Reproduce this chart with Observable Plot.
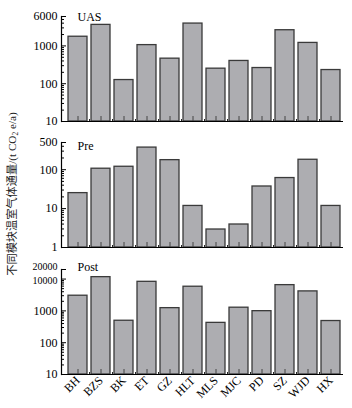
<!DOCTYPE html>
<html><head><meta charset="utf-8">
<script src="https://cdn.jsdelivr.net/npm/d3@7"></script>
<script src="https://cdn.jsdelivr.net/npm/@observablehq/plot@0.6"></script>
<style>
body{margin:0;background:#fff;}
#wrap{position:relative;width:352px;height:408px;overflow:hidden;}
#ylab{position:absolute;left:11px;top:194px;transform:translate(-50%,-50%) rotate(-90deg);white-space:nowrap;font-size:11.2px;font-family:"Liberation Serif","Noto Sans CJK SC",serif;color:#222;}
#ylab sub{font-size:7.5px;vertical-align:-2px;}
#charts svg{display:block;}
#charts{position:absolute;left:0;top:0;}
</style></head><body>
<div id="wrap"><div id="charts"></div><div id="ylab">不同模块温室气体通量/(t CO<sub>2</sub> e/a)</div></div>
<script>
const sites = ["BH","BZS","BK","ET","GZ","HLT","MLS","MJC","PD","SZ","WJD","HX"];
const uasValues = [1750, 3600, 125, 1050, 460, 3900, 250, 400, 260, 2600, 1200, 230];
const preValues = [25, 106, 119, 370, 176, 11.7, 2.9, 3.9, 37, 61, 180, 11.7];
const postValues = [3000, 11500, 490, 8200, 1220, 5750, 420, 1260, 980, 6450, 4100, 480];
const uasTicks = [10, 100, 1000, 6000];
const preTicks = [1, 10, 100, 500];
const postTicks = [10, 100, 1000, 10000, 20000];
const panelLabels = ["UAS", "Pre", "Post"];

function minorTicks(lo, hi, major) {
  const out = [];
  for (let e = Math.floor(Math.log10(lo)); e < Math.ceil(Math.log10(hi)); e++)
    for (let m = 2; m <= 9; m++) {
      const v = m * 10 ** e;
      if (v > lo && v < hi && !major.includes(v)) out.push(v);
    }
  return out;
}

function panel(values, ticks, label, height, marginTop, marginBottom, labelDy, showX, crowdedTop) {
  const data = sites.map((s, i) => ({site: s, v: values[i]}));
  const lo = ticks[0], hi = ticks[ticks.length - 1];
  const minor = minorTicks(lo, hi, ticks);
  const plain = crowdedTop ? ticks.slice(0, -2) : ticks;
  const marks = [
    Plot.barY(data, {x: "site", y1: lo, y2: "v", fill: "#adadb1", stroke: "#3a3a3a", strokeWidth: 1.3}),
    Plot.axisX({anchor: "bottom", label: null, tickSize: 5, dy: -5, tickFormat: () => "", stroke: "#444"}),
    Plot.axisX(sites.slice(0, 11), {anchor: "bottom", label: null, tickSize: 2, dy: -2, dx: 11.52, tickFormat: () => "", stroke: "#222"}),
    Plot.ruleY([lo], {stroke: "#000", strokeWidth: 1.2}),
    Plot.frame({anchor: "left", stroke: "#000", strokeWidth: 1.2}),
    Plot.axisY(ticks, {anchor: "left", label: null, tickSize: 5, dx: 5, tickFormat: () => ""}),
    Plot.axisY(minor, {anchor: "left", label: null, tickSize: 3, dx: 3, tickFormat: () => ""}),
    Plot.text(plain, {y: d => d, frameAnchor: "left", dx: -4, text: d => String(d), textAnchor: "end", fontSize: 12}),
    Plot.text([label], {frameAnchor: "top-left", text: d => d, dx: 16, dy: labelDy, textAnchor: "start", lineAnchor: "top", fontSize: 12})
  ];
  if (crowdedTop) {
    const n = ticks.length;
    marks.push(Plot.text([ticks[n - 2]], {y: d => d, frameAnchor: "left", dx: -4, dy: 1.5, text: d => String(d), textAnchor: "end", fontSize: 10}));
    marks.push(Plot.text([ticks[n - 1]], {y: d => d, frameAnchor: "left", dx: -4, dy: -3, text: d => String(d), textAnchor: "end", fontSize: 10}));
  }
  if (showX) marks.push(Plot.axisX({anchor: "bottom", label: null, tickSize: 0, tickPadding: 4, tickRotate: -45, fontSize: 12}));
  return Plot.plot({
    width: 352, height, marginTop, marginBottom, marginLeft: 61, marginRight: 9,
    style: {fontFamily: "'Liberation Serif', serif", fontSize: "12px", color: "#000", background: "#fff", overflow: "visible"},
    x: {domain: sites, range: [65.8, 342.3], paddingInner: 0.18, paddingOuter: 0.09, axis: null, label: null},
    y: {type: "log", domain: [lo, hi], axis: null, label: null},
    marks
  });
}

const el = document.getElementById("charts");
el.append(panel(uasValues, uasTicks, panelLabels[0], 128, 16, 7, -4, false, false));
el.append(panel(preValues, preTicks, panelLabels[1], 126, 14, 7, -1, false, false));
el.append(panel(postValues, postTicks, panelLabels[2], 154, 15, 34, -7, true, true));
</script>
</body></html>
